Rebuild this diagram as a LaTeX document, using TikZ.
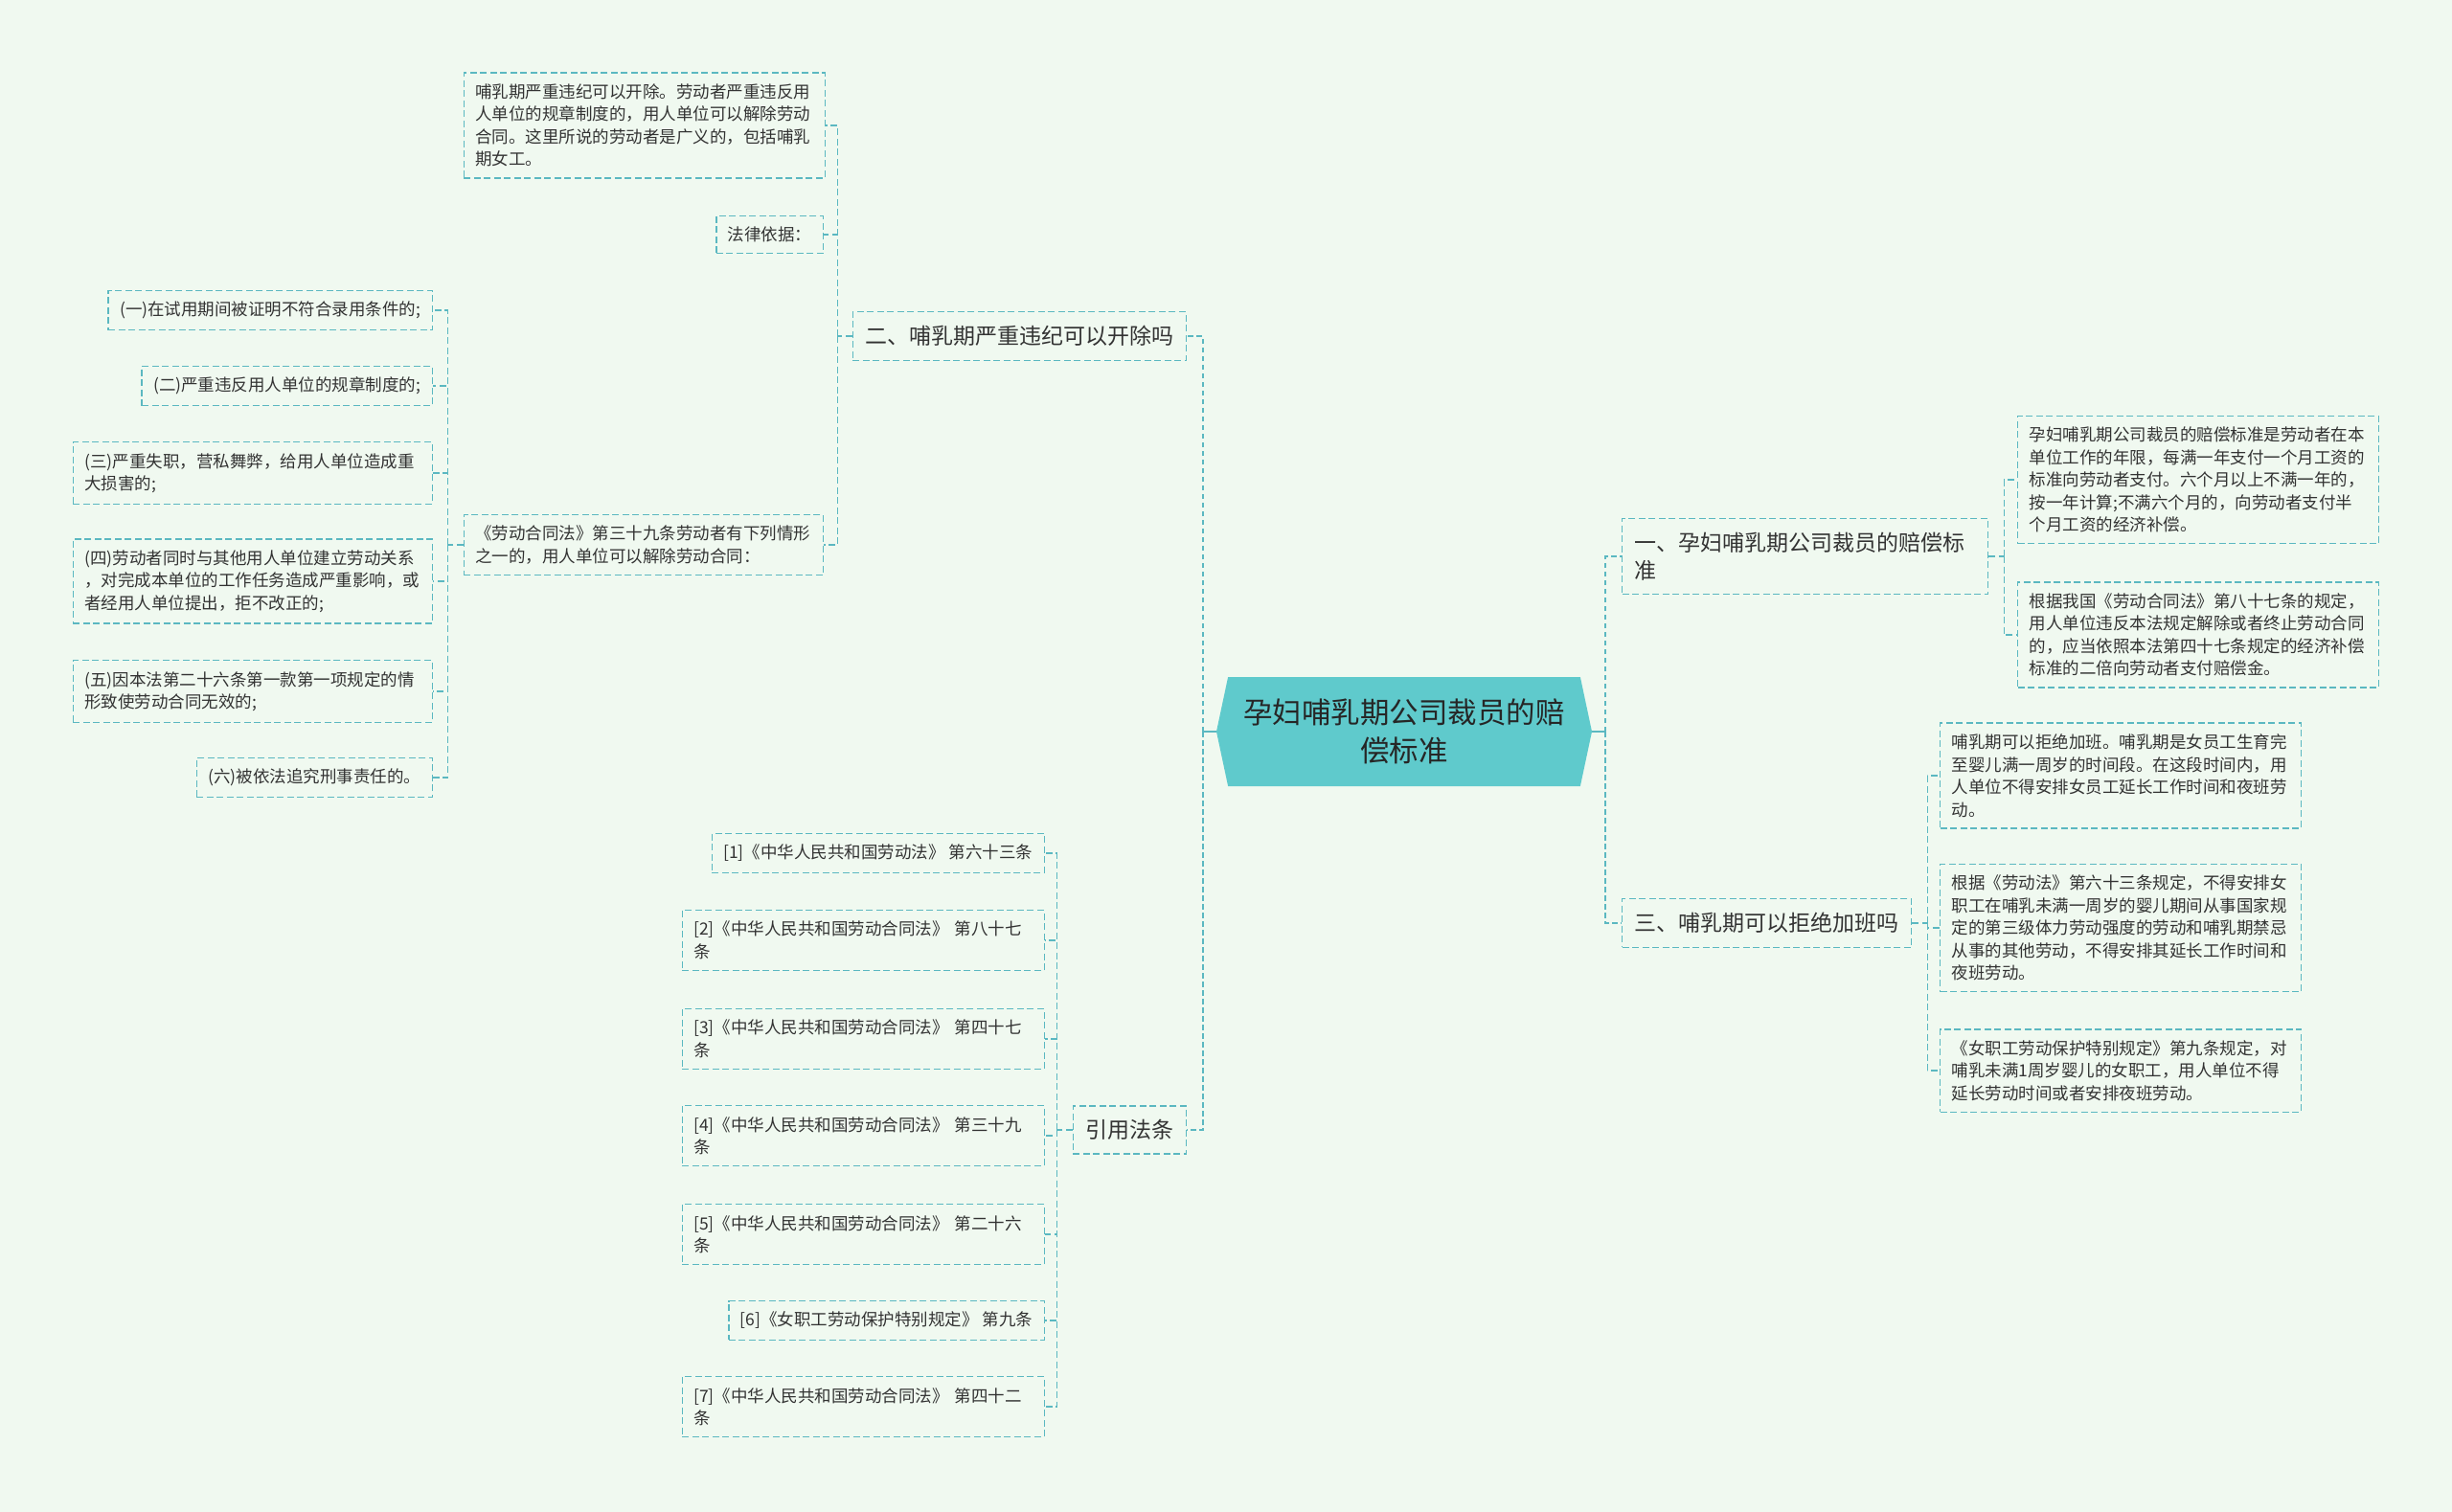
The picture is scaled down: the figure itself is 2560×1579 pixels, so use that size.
\documentclass[tikz,border=0pt]{standalone}
\usepackage{fontspec}
\setmainfont{Noto Sans CJK SC}
\usetikzlibrary{calc,shapes.symbols}
\definecolor{bgmint}{HTML}{F0F9F0}
\definecolor{linkteal}{HTML}{5BB8C1}
\definecolor{hubfill}{HTML}{5FCACC}
\definecolor{inktext}{HTML}{333333}

\begin{document}
\begin{tikzpicture}[x=1pt,y=-1pt,
  dashline/.style={draw=linkteal,line width=1.4pt,dash pattern=on 7pt off 3.5pt},
  mainline/.style={draw=linkteal,line width=2.4pt,dash pattern=on 5.5pt off 3.5pt},
  leaf/.style={dashline,text=inktext,inner xsep=12pt,inner ysep=11.5pt,align=left,font=\fontsize{17.5}{23.5}\selectfont},
  topic/.style={dashline,text=inktext,inner xsep=13pt,inner ysep=14.5pt,align=left,font=\fontsize{23}{29}\selectfont},
  hub/.style={signal,signal to=west and east,signal pointer angle=156,fill=hubfill,text=black!85,minimum width=392pt,minimum height=114pt,align=center,font=\fontsize{30.5}{40}\selectfont}]
\fill[bgmint] (0,0) rectangle (2560,1579);
% centre and main branches
\node[hub] (root) at (1466,764) {孕妇哺乳期公司裁员的赔\\偿标准};
\node[topic,anchor=west,text width=356pt] (br1) at (1693,581) {一、孕妇哺乳期公司裁员的赔偿标\\准};
\node[topic,anchor=east] (br2) at (1239,351) {二、哺乳期严重违纪可以开除吗};
\node[topic,anchor=west] (br3) at (1693,964) {三、哺乳期可以拒绝加班吗};
\node[topic,anchor=east] (br4) at (1239,1180) {引用法条};
% branch one
\node[leaf,anchor=west,text width=353pt] (r11) at (2106,501) {孕妇哺乳期公司裁员的赔偿标准是劳动者在本\\单位工作的年限，每满一年支付一个月工资的\\标准向劳动者支付。六个月以上不满一年的，\\按一年计算;不满六个月的，向劳动者支付半\\个月工资的经济补偿。};
\node[leaf,anchor=west,text width=353pt] (r12) at (2106,663) {根据我国《劳动合同法》第八十七条的规定，\\用人单位违反本法规定解除或者终止劳动合同\\的，应当依照本法第四十七条规定的经济补偿\\标准的二倍向劳动者支付赔偿金。};
% branch three
\node[leaf,anchor=west,text width=353pt] (r31) at (2025,810) {哺乳期可以拒绝加班。哺乳期是女员工生育完\\至婴儿满一周岁的时间段。在这段时间内，用\\人单位不得安排女员工延长工作时间和夜班劳\\动。};
\node[leaf,anchor=west,text width=353pt] (r32) at (2025,969) {根据《劳动法》第六十三条规定，不得安排女\\职工在哺乳未满一周岁的婴儿期间从事国家规\\定的第三级体力劳动强度的劳动和哺乳期禁忌\\从事的其他劳动，不得安排其延长工作时间和\\夜班劳动。};
\node[leaf,anchor=west,text width=353pt] (r33) at (2025,1118) {《女职工劳动保护特别规定》第九条规定，对\\哺乳未满1周岁婴儿的女职工，用人单位不得\\延长劳动时间或者安排夜班劳动。};
% branch two
\node[leaf,anchor=east,text width=353pt] (l21) at (862,131) {哺乳期严重违纪可以开除。劳动者严重违反用\\人单位的规章制度的，用人单位可以解除劳动\\合同。这里所说的劳动者是广义的，包括哺乳\\期女工。};
\node[leaf,anchor=east] (l22) at (860,245) {法律依据：};
\node[leaf,anchor=east,text width=351pt] (l23) at (860,569) {《劳动合同法》第三十九条劳动者有下列情形\\之一的，用人单位可以解除劳动合同：};
\node[leaf,anchor=east] (c1) at (452,324) {(一)在试用期间被证明不符合录用条件的;};
\node[leaf,anchor=east] (c2) at (452,403) {(二)严重违反用人单位的规章制度的;};
\node[leaf,anchor=east,text width=351pt] (c3) at (452,494) {(三)严重失职，营私舞弊，给用人单位造成重\\大损害的;};
\node[leaf,anchor=east,text width=351pt] (c4) at (452,607) {(四)劳动者同时与其他用人单位建立劳动关系\\，对完成本单位的工作任务造成严重影响，或\\者经用人单位提出，拒不改正的;};
\node[leaf,anchor=east,text width=351pt] (c5) at (452,722) {(五)因本法第二十六条第一款第一项规定的情\\形致使劳动合同无效的;};
\node[leaf,anchor=east] (c6) at (452,812) {(六)被依法追究刑事责任的。};
% branch four
\node[leaf,anchor=east] (f1) at (1091,891) {[1]《中华人民共和国劳动法》 第六十三条};
\node[leaf,anchor=east,text width=354pt] (f2) at (1091,982) {[2]《中华人民共和国劳动合同法》 第八十七\\条};
\node[leaf,anchor=east,text width=354pt] (f3) at (1091,1085) {[3]《中华人民共和国劳动合同法》 第四十七\\条};
\node[leaf,anchor=east,text width=354pt] (f4) at (1091,1186) {[4]《中华人民共和国劳动合同法》 第三十九\\条};
\node[leaf,anchor=east,text width=354pt] (f5) at (1091,1289) {[5]《中华人民共和国劳动合同法》 第二十六\\条};
\node[leaf,anchor=east] (f6) at (1091,1379) {[6]《女职工劳动保护特别规定》 第九条};
\node[leaf,anchor=east,text width=354pt] (f7) at (1091,1469) {[7]《中华人民共和国劳动合同法》 第四十二\\条};
% connectors
\coordinate (tHubL) at ([xshift=-14pt]root.west);
\coordinate (tHubR) at ([xshift=14pt]root.east);
\draw[mainline,solid] (root.west) -- (tHubL);
\draw[mainline,solid] (root.east) -- (tHubR);
\foreach \c in {br2,br4} \draw[mainline] (tHubL) |- (\c.east);
\foreach \c in {br1,br3} \draw[mainline] (tHubR) |- (\c.west);
\coordinate (t1) at ([xshift=16pt]br1.east);
\draw[dashline] (br1.east) -- (t1);
\foreach \c in {r11,r12} \draw[dashline] (t1) |- (\c.west);
\coordinate (t3) at ([xshift=16pt]br3.east);
\draw[dashline] (br3.east) -- (t3);
\foreach \c in {r31,r32,r33} \draw[dashline] (t3) |- (\c.west);
\coordinate (t2) at ([xshift=-15pt]br2.west);
\draw[dashline] (br2.west) -- (t2);
\foreach \c in {l21,l22,l23} \draw[dashline] (t2) |- (\c.east);
\coordinate (t23) at ([xshift=-16pt]l23.west);
\draw[dashline] (l23.west) -- (t23);
\foreach \c in {c1,c2,c3,c4,c5,c6} \draw[dashline] (t23) |- (\c.east);
\coordinate (t4) at ([xshift=-16pt]br4.west);
\draw[dashline] (br4.west) -- (t4);
\foreach \c in {f1,f2,f3,f4,f5,f6,f7} \draw[dashline] (t4) |- (\c.east);
\end{tikzpicture}
\end{document}
